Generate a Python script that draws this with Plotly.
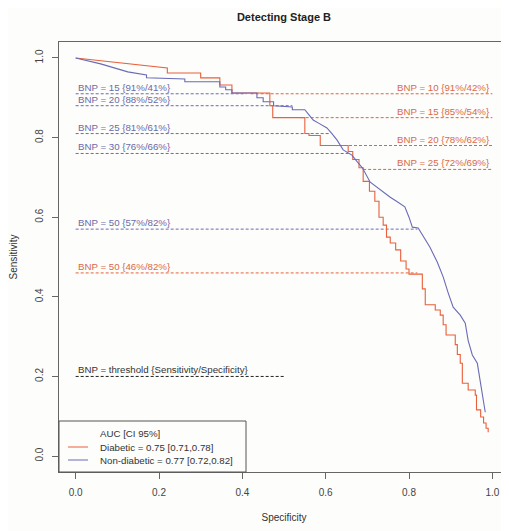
import plotly.graph_objects as go

# ---------------- data ----------------
diab_spec = [0, 0.22, 0.22, 0.30, 0.30, 0.346, 0.346, 0.375, 0.375, 0.466, 0.466, 0.473, 0.473, 0.55, 0.55,
             0.56, 0.56, 0.587, 0.587, 0.654, 0.654, 0.665, 0.665, 0.68, 0.68, 0.69, 0.69, 0.705, 0.705,
             0.718, 0.718, 0.728, 0.728, 0.738, 0.738, 0.746, 0.746, 0.755, 0.755, 0.768, 0.768, 0.78, 0.78,
             0.793, 0.793, 0.80, 0.80, 0.832, 0.832, 0.839, 0.839, 0.863, 0.863, 0.875, 0.875, 0.882, 0.882,
             0.889, 0.889, 0.911, 0.911, 0.916, 0.916, 0.923, 0.923, 0.928, 0.928, 0.942, 0.942, 0.959, 0.959,
             0.962, 0.962, 0.972, 0.972, 0.979, 0.979, 0.985, 0.985, 0.99, 0.99]
diab_sens = [1.0, 0.975, 0.962, 0.962, 0.95, 0.95, 0.932, 0.932, 0.912, 0.912, 0.88, 0.88, 0.85, 0.85, 0.81,
             0.81, 0.805, 0.805, 0.78, 0.78, 0.765, 0.765, 0.745, 0.745, 0.724, 0.724, 0.69, 0.69, 0.665,
             0.665, 0.64, 0.64, 0.60, 0.60, 0.58, 0.58, 0.55, 0.55, 0.535, 0.535, 0.518, 0.518, 0.49,
             0.49, 0.47, 0.47, 0.457, 0.457, 0.42, 0.42, 0.38, 0.38, 0.367, 0.367, 0.354, 0.354, 0.33,
             0.33, 0.304, 0.304, 0.28, 0.28, 0.255, 0.255, 0.233, 0.233, 0.183, 0.183, 0.166, 0.166, 0.153,
             0.153, 0.116, 0.116, 0.098, 0.098, 0.083, 0.083, 0.07, 0.07, 0.06]

nond_spec = [0, 0.06, 0.125, 0.17, 0.17, 0.262, 0.262, 0.346, 0.346, 0.36, 0.36, 0.375, 0.375, 0.435, 0.435,
             0.45, 0.45, 0.475, 0.475, 0.52, 0.52, 0.55, 0.56, 0.57, 0.585, 0.603, 0.615, 0.627, 0.642, 0.663,
             0.675, 0.688, 0.707, 0.731, 0.755, 0.77, 0.79, 0.80, 0.808, 0.822, 0.839, 0.85, 0.868, 0.882,
             0.894, 0.906, 0.923, 0.935, 0.942, 0.952, 0.964, 0.971, 0.978, 0.983]
nond_sens = [1.0, 0.985, 0.965, 0.957, 0.95, 0.947, 0.94, 0.94, 0.927, 0.927, 0.92, 0.92, 0.912, 0.912, 0.90,
             0.90, 0.89, 0.89, 0.88, 0.877, 0.87, 0.87, 0.857, 0.844, 0.835, 0.824, 0.81, 0.794, 0.769, 0.756,
             0.74, 0.724, 0.688, 0.668, 0.65, 0.64, 0.626, 0.60, 0.575, 0.573, 0.543, 0.525, 0.487, 0.45,
             0.41, 0.374, 0.354, 0.334, 0.29, 0.254, 0.233, 0.19, 0.141, 0.11]

# thresholds: (BNP, sensitivity, specificity)
nond_bnp = [15, 20, 25, 30, 50]
nond_thr_sens = [0.91, 0.88, 0.81, 0.76, 0.57]
nond_thr_spec = [0.41, 0.52, 0.61, 0.66, 0.82]

diab_right_bnp = [10, 15, 20, 25]
diab_right_sens = [0.91, 0.85, 0.78, 0.72]
diab_right_spec = [0.42, 0.54, 0.62, 0.69]

diab_left_bnp = [50]
diab_left_sens = [0.46]
diab_left_spec = [0.82]

ref_sens = 0.20
ref_spec_end = 0.5

x_ticks = [0.0, 0.2, 0.4, 0.6, 0.8, 1.0]
y_ticks = [0.0, 0.2, 0.4, 0.6, 0.8, 1.0]

legend_title = "AUC [CI 95%]"
legend_labels = ["Diabetic = 0.75 [0.71,0.78]", "Non-diabetic = 0.77 [0.72,0.82]"]

# ---------------- style ----------------
RED = "#e8603c"
BLUE = "#6a6ab8"
RED_TXT = "#d8694c"
BLUE_TXT = "#6a6aa8"
FONT = "Liberation Sans, Arial, sans-serif"
DASH = "3px,2px"

fig = go.Figure()

# threshold dashed lines
for b, s, sp in zip(nond_bnp, nond_thr_sens, nond_thr_spec):
    fig.add_trace(go.Scatter(x=[0, sp], y=[s, s], mode="lines",
                             line=dict(color=BLUE, width=1, dash=DASH), showlegend=False, hoverinfo="skip"))
    fig.add_annotation(x=0, y=s, xref="x", yref="y", text=f"BNP = {b} {{{round(s*100)}%/{round(sp*100)}%}}",
                       showarrow=False, xanchor="left", yanchor="bottom", yshift=-1,
                       font=dict(family=FONT, size=9.7, color=BLUE_TXT))
for b, s, sp in zip(diab_right_bnp, diab_right_sens, diab_right_spec):
    fig.add_trace(go.Scatter(x=[sp, 1], y=[s, s], mode="lines",
                             line=dict(color=RED, width=1, dash=DASH), showlegend=False, hoverinfo="skip"))
    fig.add_annotation(x=1, y=s, xref="x", yref="y", text=f"BNP = {b} {{{round(s*100)}%/{round(sp*100)}%}}",
                       showarrow=False, xanchor="right", yanchor="bottom", yshift=-1,
                       font=dict(family=FONT, size=9.7, color=RED_TXT))
for b, s, sp in zip(diab_left_bnp, diab_left_sens, diab_left_spec):
    fig.add_trace(go.Scatter(x=[0, sp], y=[s, s], mode="lines",
                             line=dict(color=RED, width=1, dash=DASH), showlegend=False, hoverinfo="skip"))
    fig.add_annotation(x=0, y=s, xref="x", yref="y", text=f"BNP = {b} {{{round(s*100)}%/{round(sp*100)}%}}",
                       showarrow=False, xanchor="left", yanchor="bottom", yshift=-1,
                       font=dict(family=FONT, size=9.7, color=RED_TXT))

fig.add_trace(go.Scatter(x=[0, ref_spec_end], y=[ref_sens, ref_sens], mode="lines",
                         line=dict(color="#222222", width=1, dash=DASH), showlegend=False, hoverinfo="skip"))
fig.add_annotation(x=0, y=ref_sens, xref="x", yref="y", text="BNP = threshold {Sensitivity/Specificity}",
                   showarrow=False, xanchor="left", yanchor="bottom", yshift=-1,
                   font=dict(family=FONT, size=9.7, color="#333333"))

# ROC curves
fig.add_trace(go.Scatter(x=diab_spec, y=diab_sens, mode="lines", line=dict(color=RED, width=1.1),
                         showlegend=False))
fig.add_trace(go.Scatter(x=nond_spec, y=nond_sens, mode="lines", line=dict(color=BLUE, width=1.1),
                         showlegend=False))

# custom legend box (plot area is 450 x 430 px)
PW, PH = 450, 430
fig.add_shape(type="rect", xref="x domain", yref="y domain", x0=0, x1=187 / PW, y0=0, y1=51 / PH,
              line=dict(color="#555555", width=1), fillcolor="rgba(255,255,255,0)")
fig.add_annotation(xref="paper", yref="paper", x=39 / PW, y=39 / PH, text=legend_title,
                   showarrow=False, xanchor="left", yanchor="middle",
                   font=dict(family=FONT, size=9.7, color="#333333"))
for i, (lab, col) in enumerate(zip(legend_labels, [RED, BLUE])):
    yp = (25 - 13 * i) / PH
    fig.add_shape(type="line", xref="paper", yref="paper", x0=9 / PW, x1=29 / PW,
                  y0=yp, y1=yp, line=dict(color=col, width=1))
    fig.add_annotation(xref="paper", yref="paper", x=39 / PW, y=yp, text=lab,
                       showarrow=False, xanchor="left", yanchor="middle",
                       font=dict(family=FONT, size=9.7, color="#333333"))

axis_common = dict(showgrid=False, zeroline=False, showline=True, mirror=True, linecolor="#666666",
                   linewidth=1, ticks="outside", ticklen=6, tickcolor="#666666", tickformat=".1f",
                   automargin=False,
                   tickfont=dict(family=FONT, size=10, color="#444444"))

# page body has an 8px margin, so the figure is 501x523 with margins reduced by 8
fig.update_layout(
    width=501, height=523,
    margin=dict(l=51, r=0, t=34, b=59, pad=0),
    paper_bgcolor="#fdfdfb", plot_bgcolor="#fdfdfb",
    title=dict(text="<b>Detecting Stage B</b>", x=0.5, xref="paper", xanchor="center", automargin=False,
               y=1 - 9 / 523, yanchor="middle", font=dict(family=FONT, size=11, color="#222222")),
    xaxis=dict(range=[-0.04, 1.04], tickvals=x_ticks, ticklabelstandoff=5,
               title=dict(text="Specificity", standoff=16, font=dict(family=FONT, size=10, color="#333333")),
               **axis_common),
    yaxis=dict(range=[-0.04, 1.04], tickvals=y_ticks, tickangle=-90, ticklabelstandoff=5,
               title=dict(text="Sensitivity", standoff=15, font=dict(family=FONT, size=10, color="#333333")),
               **axis_common),
)

fig.write_html("out.html")
